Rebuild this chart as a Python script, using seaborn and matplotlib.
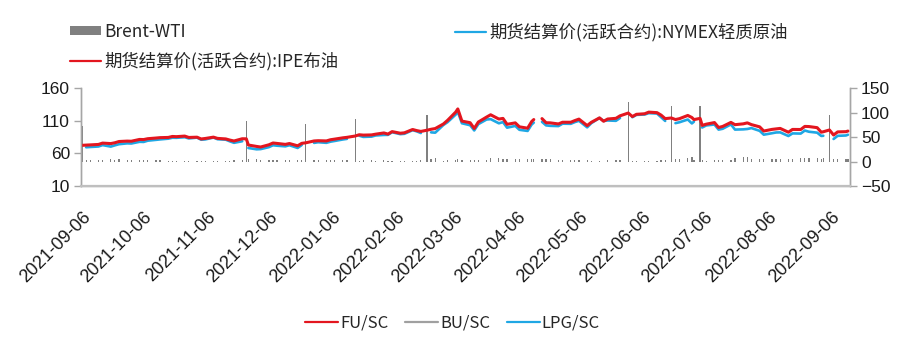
import numpy as np
import pandas as pd
import matplotlib
matplotlib.use("Agg")
import matplotlib.pyplot as plt
import matplotlib.dates as mdates
from matplotlib.lines import Line2D
from matplotlib.patches import Patch
from matplotlib.font_manager import FontProperties
import seaborn as sns

# ---------------- data ----------------
dates = [
    "2021-09-06", "2021-09-08", "2021-09-10", "2021-09-14", "2021-09-16", "2021-09-20", "2021-09-22", "2021-09-24",
    "2021-09-28", "2021-09-30", "2021-10-04", "2021-10-06", "2021-10-08", "2021-10-12", "2021-10-14", "2021-10-18",
    "2021-10-20", "2021-10-22", "2021-10-26", "2021-10-28", "2021-11-01", "2021-11-03", "2021-11-05", "2021-11-09",
    "2021-11-11", "2021-11-15", "2021-11-17", "2021-11-19", "2021-11-23", "2021-11-25", "2021-11-26", "2021-11-30",
    "2021-12-02", "2021-12-06", "2021-12-08", "2021-12-10", "2021-12-14", "2021-12-16", "2021-12-20", "2021-12-22",
    "2021-12-24", "2021-12-28", "2021-12-30", "2022-01-03", "2022-01-05", "2022-01-07", "2022-01-11", "2022-01-13",
    "2022-01-17", "2022-01-19", "2022-01-21", "2022-01-25", "2022-01-27", "2022-01-31", "2022-02-02", "2022-02-04",
    "2022-02-08", "2022-02-10", "2022-02-14", "2022-02-16", "2022-02-18", "2022-02-21", "2022-02-23", "2022-02-25",
    "2022-03-01", "2022-03-03", "2022-03-07", "2022-03-08", "2022-03-10", "2022-03-14", "2022-03-16", "2022-03-18",
    "2022-03-22", "2022-03-24", "2022-03-28", "2022-03-30", "2022-04-01", "2022-04-05", "2022-04-07", "2022-04-11",
    "2022-04-13", "2022-04-14", "2022-04-15", "2022-04-18", "2022-04-20", "2022-04-22", "2022-04-26", "2022-04-28",
    "2022-05-02", "2022-05-04", "2022-05-06", "2022-05-10", "2022-05-12", "2022-05-16", "2022-05-18", "2022-05-20",
    "2022-05-24", "2022-05-26", "2022-05-30", "2022-06-01", "2022-06-03", "2022-06-07", "2022-06-09", "2022-06-13",
    "2022-06-15", "2022-06-17", "2022-06-20", "2022-06-22", "2022-06-24", "2022-06-28", "2022-06-30", "2022-07-01",
    "2022-07-04", "2022-07-05", "2022-07-07", "2022-07-11", "2022-07-13", "2022-07-15", "2022-07-19", "2022-07-21",
    "2022-07-25", "2022-07-27", "2022-07-29", "2022-08-02", "2022-08-04", "2022-08-08", "2022-08-10", "2022-08-12",
    "2022-08-16", "2022-08-18", "2022-08-22", "2022-08-24", "2022-08-26", "2022-08-30", "2022-09-01", "2022-09-02",
    "2022-09-05", "2022-09-07", "2022-09-09", "2022-09-13", "2022-09-14",
]

brent = [
    72.22, 72.60, 72.92, 73.60, 75.67, 74.92, 76.19, 78.09,
    78.72, 78.52, 81.26, 81.08, 82.39, 83.42, 84.00, 84.33,
    85.82, 85.53, 86.40, 84.32, 84.71, 81.99, 82.74, 84.78,
    82.87, 82.05, 80.28, 78.89, 82.31, 82.22, 72.72, 70.57,
    69.67, 73.08, 75.82, 75.15, 73.70, 75.02, 71.52, 75.29,
    76.14, 78.94, 79.32, 78.98, 80.80, 81.75, 83.72, 84.47,
    86.48, 88.44, 87.89, 88.20, 89.34, 91.21, 89.47, 93.27,
    90.78, 91.41, 96.48, 94.81, 93.54, 95.39, 96.84, 97.93,
    104.97, 110.46, 123.21, 127.98, 109.33, 106.90, 98.02, 107.93,
    115.48, 119.03, 112.48, 113.45, 104.39, 106.64, 100.58, 98.48,
    108.78, 111.70, np.nan, 113.16, 106.80, 106.65, 104.99, 107.59,
    107.58, 110.14, 112.39, 102.46, 107.45, 114.24, 109.11, 112.55,
    113.56, 117.40, 121.67, 116.29, 119.72, 120.57, 123.07, 122.27,
    118.51, 113.12, 114.13, 111.74, 113.12, 117.98, 114.81, 111.63,
    113.50, 102.77, 104.65, 107.10, 99.57, 101.16, 107.35, 103.86,
    105.15, 106.62, 103.97, 100.54, 94.12, 96.65, 97.40, 98.15,
    92.34, 96.59, 96.48, 101.22, 100.99, 99.31, 92.36, 93.02,
    95.74, 88.00, 92.84, 93.17, 94.10,
]

wti = [
    np.nan, 69.30, 69.72, 70.46, 72.61, 70.29, 72.23, 73.98,
    75.29, 75.03, 77.62, 77.43, 79.35, 80.64, 81.31, 82.44,
    83.87, 83.76, 84.65, 82.81, 84.05, 80.86, 81.27, 84.15,
    81.59, 80.88, 78.36, 76.10, 78.50, np.nan, 68.15, 66.18,
    66.50, 69.49, 72.36, 71.67, 70.73, 72.38, 68.23, 72.76,
    np.nan, 75.98, 76.99, 76.08, 77.85, 78.90, 81.22, 82.12,
    np.nan, 86.96, 85.14, 85.60, 87.35, 88.15, 88.26, 92.31,
    89.36, 89.88, 95.46, 93.66, 91.07, np.nan, 92.10, 91.59,
    103.41, 107.67, 119.40, 123.70, 106.02, 103.01, 95.04, 104.70,
    111.76, 112.34, 105.96, 107.82, 99.27, 101.96, 96.03, 94.29,
    104.25, 106.95, np.nan, 108.21, 102.75, 102.07, 101.70, 105.36,
    105.17, 107.81, 109.77, 99.76, 106.13, 114.20, 109.59, 110.28,
    109.77, 114.09, np.nan, 115.26, 118.87, 119.41, 121.51, 120.93,
    115.31, 109.56, np.nan, 106.19, 107.62, 111.76, 105.76, 108.43,
    np.nan, 99.50, 102.73, 104.09, 96.30, 97.59, 104.22, 96.35,
    96.70, 97.26, 98.62, 94.42, 88.54, 90.76, 91.93, 92.09,
    86.53, 90.50, 90.23, 94.89, 93.06, 91.64, 86.61, 86.87,
    np.nan, 81.94, 86.79, 87.31, 88.48,
]

spread = [
    72.2, 3.3, 3.2, 3.1, 3.1, 4.6, 4.0, 4.1,
    3.4, 3.5, 3.6, 3.7, 3.0, 2.8, 2.7, 1.9,
    2.0, 1.8, 1.8, 1.5, 0.7, 1.1, 1.5, 0.6,
    1.3, 1.2, 1.9, 2.8, 3.8, 82.2, 4.6, 4.4,
    3.2, 3.6, 3.5, 3.5, 3.0, 2.6, 3.3, 2.5,
    76.1, 3.0, 2.3, 2.9, 3.0, 2.9, 2.5, 2.4,
    86.5, 1.5, 2.8, 2.6, 2.0, 3.1, 1.2, 1.0,
    1.4, 1.5, 1.0, 1.2, 2.5, 95.4, 4.7, 6.3,
    1.6, 2.8, 3.8, 4.3, 3.3, 3.9, 3.0, 3.2,
    3.7, 6.7, 6.5, 5.6, 5.1, 4.7, 4.6, 4.2,
    4.5, 4.8, 0.0, 5.0, 4.1, 4.6, 3.3, 2.2,
    2.4, 2.3, 2.6, 2.7, 1.3, 0.1, -0.5, 2.3,
    3.8, 3.3, 121.7, 1.0, 0.9, 1.2, 1.6, 1.3,
    3.2, 3.6, 114.1, 5.6, 5.5, 6.2, 9.1, 3.2,
    113.5, 3.3, 1.9, 3.0, 3.3, 3.6, 3.1, 7.5,
    8.5, 9.4, 5.4, 6.1, 5.6, 5.9, 5.5, 6.1,
    5.8, 6.1, 6.3, 6.3, 7.9, 7.7, 5.8, 6.2,
    95.7, 6.1, 6.1, 5.9, 5.6,
]

x_ticks = ["2021-09-06", "2021-10-06", "2021-11-06", "2021-12-06", "2022-01-06", "2022-02-06", "2022-03-06",
           "2022-04-06", "2022-05-06", "2022-06-06", "2022-07-06", "2022-08-06", "2022-09-06"]
left_ticks = [10, 60, 110, 160]
right_ticks = [-50, 0, 50, 100, 150]

label_spread = "Brent-WTI"
label_wti = "期货结算价(活跃合约):NYMEX轻质原油"
label_brent = "期货结算价(活跃合约):IPE布油"
bottom_labels = ["FU/SC", "BU/SC", "LPG/SC"]

RED = "#E3161F"
BLUE = "#1FA7E4"
GRAY = "#808080"
LGRAY = "#A0A0A0"
SPINE = "#A6A6A6"

# ---------------- frame ----------------
df = pd.DataFrame({"date": pd.to_datetime(dates), "brent": brent, "wti": wti, "spread": spread})
df["seg_b"] = df["brent"].isna().cumsum()
df["seg_w"] = df["wti"].isna().cumsum()

sns.set_theme(style="white")
plt.rcParams["font.family"] = ["Liberation Sans", "Noto Sans CJK SC", "DejaVu Sans"]
cjk = FontProperties(family=["Noto Sans CJK SC", "DejaVu Sans"], size=12.5)
cjk_b = FontProperties(family=["Noto Sans CJK SC", "DejaVu Sans"], size=12)
tickfont = FontProperties(family=["Liberation Sans", "DejaVu Sans"], size=12.5)
xtickfont = FontProperties(family=["Liberation Sans", "DejaVu Sans"], size=13)

fig = plt.figure(figsize=(9.05, 3.4), dpi=100)
ax = fig.add_axes([81 / 905, 1 - 186 / 340, (850 - 81) / 905, (186 - 88) / 340])
ax2 = ax.twinx()

# bars (right axis)
ax2.bar(df["date"], df["spread"], width=0.6, color=GRAY, linewidth=0)

# lines (left axis)
dw = df.dropna(subset=["wti"])
sns.lineplot(data=dw, x="date", y="wti", units="seg_w", estimator=None, ax=ax,
             color=BLUE, linewidth=1.9, legend=False)
db = df.dropna(subset=["brent"])
sns.lineplot(data=db, x="date", y="brent", units="seg_b", estimator=None, ax=ax,
             color=RED, linewidth=2.2, legend=False)

ax.set_zorder(ax2.get_zorder() + 1)
ax.patch.set_visible(False)

ax.set_ylim(10, 160)
ax.set_yticks(left_ticks)
ax2.set_ylim(-50, 150)
ax2.set_yticks(right_ticks)
ax2.set_yticklabels([("\u2212" + str(-v)) if v < 0 else str(v) for v in right_ticks])

ax.set_xlim(pd.Timestamp("2021-09-05 12:00"), pd.Timestamp("2022-09-15"))
ax.set_xticks(pd.to_datetime(x_ticks))
ax.xaxis.set_major_formatter(mdates.DateFormatter("%Y-%m-%d"))
ax.set_xlabel("")
ax.set_ylabel("")
ax2.set_ylabel("")

for a in (ax, ax2):
    for s in a.spines.values():
        s.set_color(SPINE)
        s.set_linewidth(1.0)
    a.spines["top"].set_visible(False)
ax.spines["bottom"].set_linewidth(1.6)
ax.spines["bottom"].set_color("#BFBFBF")

ax.tick_params(axis="y", which="both", left=True, length=5, width=1, color=SPINE,
               labelcolor="#1A1A1A", pad=3)
ax2.tick_params(axis="y", which="both", right=True, length=5, width=1, color=SPINE,
                labelcolor="#1A1A1A", pad=3)
ax.tick_params(axis="x", length=0, labelcolor="#1A1A1A", pad=16)
for lbl in ax.get_yticklabels() + ax2.get_yticklabels():
    lbl.set_fontproperties(tickfont)
for lbl in ax.get_xticklabels():
    lbl.set_fontproperties(xtickfont)
plt.setp(ax.get_xticklabels(), rotation=45, ha="right", rotation_mode="anchor")

# top legends
h_spread = Patch(facecolor=GRAY, edgecolor="none")
h_brent = Line2D([], [], color=RED, linewidth=1.6)
h_wti = Line2D([], [], color=BLUE, linewidth=1.6)
fig.legend([h_spread, h_brent], [label_spread, label_brent], loc="upper left",
           bbox_to_anchor=(70 / 905, 1 - 23 / 340), frameon=False, prop=cjk,
           handlelength=1.8, handleheight=0.45, handletextpad=0.15, borderpad=0,
           borderaxespad=0, labelspacing=0.6)
fig.legend([h_wti], [label_wti], loc="upper left",
           bbox_to_anchor=(455 / 905, 1 - 23 / 340), frameon=False, prop=cjk,
           handlelength=1.8, handletextpad=0.15, borderpad=0, borderaxespad=0)

# bottom legend
hb = [Line2D([], [], color=RED, linewidth=1.6),
      Line2D([], [], color=LGRAY, linewidth=1.6),
      Line2D([], [], color=BLUE, linewidth=1.6)]
fig.legend(hb, bottom_labels, loc="center", bbox_to_anchor=(0.5, 1 - 323 / 340), ncol=3,
           frameon=False, prop=cjk_b, handlelength=2.0, handletextpad=0.1, columnspacing=1.0,
           borderpad=0, borderaxespad=0)

fig.savefig("out.png", dpi=100, facecolor="white")
